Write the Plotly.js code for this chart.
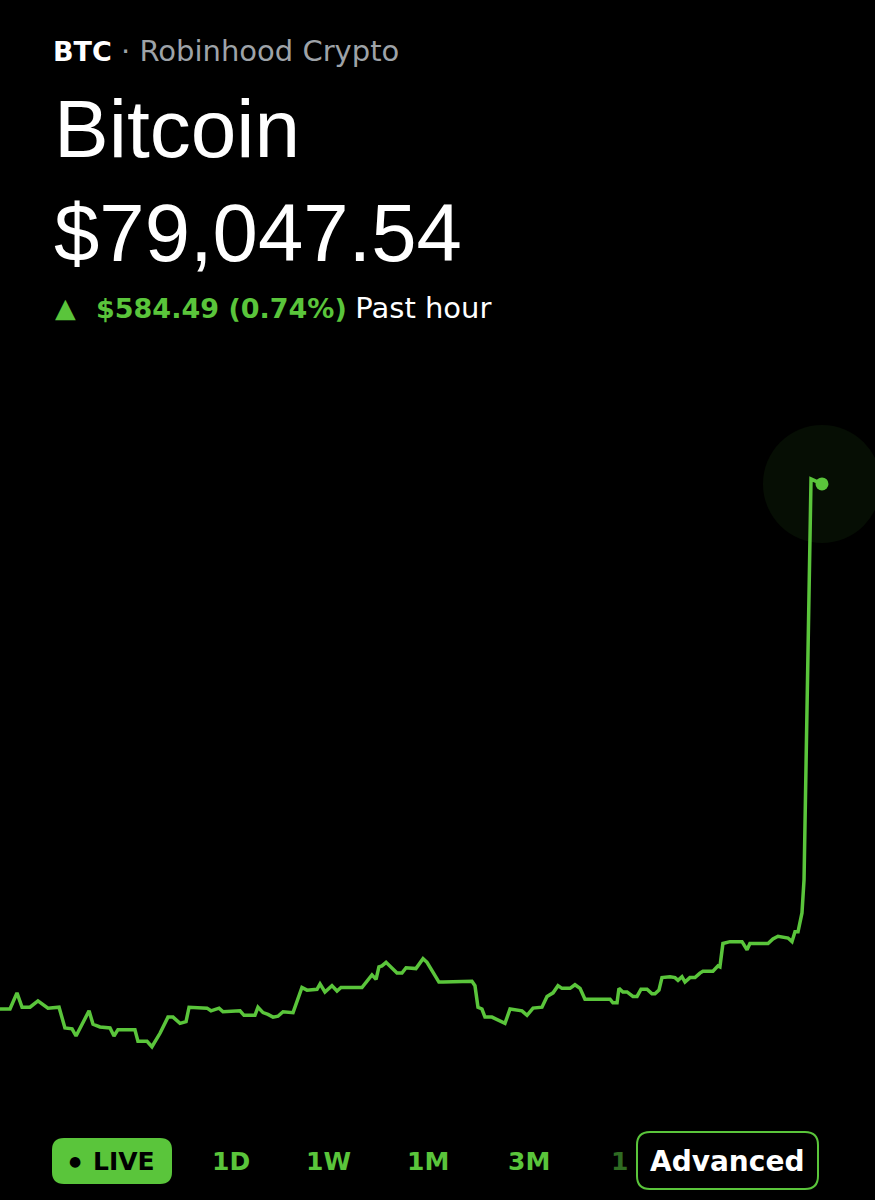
<!DOCTYPE html>
<html>
<head>
<meta charset="utf-8">
<script src="https://cdn.plot.ly/plotly-3.0.1.min.js"></script>
<style>
  html, body { margin: 0; padding: 0; background: #000; }
  #chart { width: 875px; height: 1200px; }
</style>
</head>
<body>
<div id="chart"></div>
<script>
/* ─── Past-hour BTC price (minutes since start, USD) ─── */
const times = [
  0, 0.73, 1.24, 1.61, 2.19, 2.77, 3.50, 4.31, 4.74, 5.26,
  5.55, 6.50, 6.79, 7.30, 8.03, 8.32, 8.61, 9.85, 10.07, 10.73,
  11.09, 11.68, 12.26, 12.63, 13.14, 13.58, 13.80, 15.11, 15.40, 15.99,
  16.28, 17.52, 17.81, 18.61, 18.83, 19.20, 19.56, 19.93, 20.29, 20.66,
  21.39, 22.04, 22.41, 23.14, 23.36, 23.72, 24.23, 24.60, 24.89, 26.42,
  27.15, 27.45, 27.66, 27.88, 28.18, 28.98, 29.34, 29.64, 30.36, 30.88,
  31.17, 31.53, 32.04, 32.34, 34.45, 34.67, 34.89, 35.18, 35.40, 35.91,
  36.35, 36.86, 37.23, 38.10, 38.47, 38.91, 39.56, 39.93, 40.37, 40.73,
  41.02, 41.61, 41.97, 42.34, 42.70, 44.53, 44.74, 45.04, 45.18, 45.47,
  45.77, 46.20, 46.50, 46.79, 47.23, 47.59, 47.81, 48.10, 48.32, 48.91,
  49.27, 49.49, 49.78, 50.00, 50.36, 50.73, 51.09, 51.31, 52.04, 52.41,
  52.55, 52.77, 53.28, 54.16, 54.53, 54.74, 56.06, 56.42, 56.79, 57.15,
  57.52, 57.81, 58.03, 58.25, 58.54, 58.69, 59.20, 60.00,
];
const prices = [
  78463, 78463, 78481, 78465, 78465, 78472, 78464, 78465, 78442, 78441,
  78433, 78461, 78446, 78443, 78442, 78433, 78440, 78440, 78427, 78427,
  78421, 78436, 78454, 78454, 78447, 78449, 78465, 78464, 78461, 78464,
  78460, 78461, 78456, 78456, 78465, 78459, 78457, 78454, 78455, 78460,
  78459, 78487, 78484, 78485, 78491, 78482, 78489, 78483, 78487, 78487,
  78501, 78496, 78510, 78511, 78515, 78503, 78503, 78509, 78508, 78519,
  78515, 78506, 78493, 78493, 78494, 78489, 78465, 78463, 78454, 78454,
  78451, 78447, 78463, 78461, 78456, 78464, 78465, 78477, 78481, 78489,
  78486, 78486, 78490, 78486, 78474, 78474, 78470, 78470, 78486, 78482,
  78482, 78477, 78477, 78485, 78485, 78480, 78480, 78484, 78498, 78499,
  78498, 78495, 78499, 78493, 78498, 78498, 78503, 78505, 78505, 78511,
  78510, 78536, 78538, 78538, 78529, 78536, 78536, 78541, 78544, 78543,
  78542, 78538, 78549, 78549, 78570, 78607, 79053, 79047.54,
];

const symbol = 'BTC';
const exchange = 'Robinhood Crypto';
const assetName = 'Bitcoin';
const lastPrice = '$79,047.54';
const change = '$584.49 (0.74%)';
const changePeriod = 'Past hour';
const ranges = ['1D', '1W', '1M', '3M'];

/* ─── Colours & page geometry ─── */
const GREEN = '#5ac53b';
const GREY = '#9ea3a8';
const W = 875, H = 1200;
const X = px => px / W;          // page px -> paper
const Y = py => 1 - py / H;

function roundRect(x0, y0, x1, y1, r) {
  const rx = r / W, ry = r / H;
  const a = X(x0), b = X(x1), t = Y(y0), u = Y(y1);
  return `M ${a + rx} ${t} L ${b - rx} ${t} Q ${b} ${t} ${b} ${t - ry} ` +
         `L ${b} ${u + ry} Q ${b} ${u} ${b - rx} ${u} L ${a + rx} ${u} ` +
         `Q ${a} ${u} ${a} ${u + ry} L ${a} ${t - ry} Q ${a} ${t} ${a + rx} ${t} Z`;
}

const lastT = times[times.length - 1];
const lastP = prices[prices.length - 1];

const traces = [
  {
    x: [lastT], y: [lastP],
    mode: 'markers',
    marker: { color: 'rgba(90,197,59,0.07)', size: 118 },
    hoverinfo: 'skip',
  },
  {
    x: times, y: prices,
    mode: 'lines',
    line: { color: GREEN, width: 3.5 },
    hoverinfo: 'skip',
  },
  {
    x: [lastT], y: [lastP],
    mode: 'markers',
    marker: { color: GREEN, size: 13 },
    hoverinfo: 'skip',
  },
];

const BIG = '"Liberation Sans", Arial, sans-serif';
const UI = '"DejaVu Sans", sans-serif';

const annotations = [
  {
    x: X(51), y: Y(51), xanchor: 'left', yanchor: 'middle',
    text: `<b>${symbol}</b><span style="color:${GREY};font-size:29px"> · ${exchange}</span>`,
    font: { family: UI, size: 27, color: '#ffffff' },
  },
  {
    x: X(52), y: Y(128), xanchor: 'left', yanchor: 'middle',
    text: assetName,
    font: { family: BIG, size: 82, color: '#ffffff' },
  },
  {
    x: X(52), y: Y(232), xanchor: 'left', yanchor: 'middle',
    text: lastPrice,
    font: { family: BIG, size: 81.5, color: '#ffffff' },
  },
  {
    x: X(53), y: Y(308), xanchor: 'left', yanchor: 'middle',
    text: '▲',
    font: { family: UI, size: 27, color: GREEN },
  },
  {
    x: X(94), y: Y(308), xanchor: 'left', yanchor: 'middle',
    text: `<b>${change}</b> <span style="color:#ffffff;font-size:29px">${changePeriod}</span>`,
    font: { family: UI, size: 27, color: GREEN },
  },
  {
    x: X(75), y: Y(1161), xanchor: 'center', yanchor: 'middle',
    text: '●',
    font: { family: UI, size: 14, color: '#000000' },
  },
  {
    x: X(124), y: Y(1161), xanchor: 'center', yanchor: 'middle',
    text: '<b>LIVE</b>',
    font: { family: UI, size: 25, color: '#000000' },
  },
  ...ranges.map((r, i) => ({
    x: X([231, 328, 428, 529][i]), y: Y(1161), xanchor: 'center', yanchor: 'middle',
    text: `<b>${r}</b>`,
    font: { family: UI, size: 25, color: GREEN },
  })),
  {
    x: X(619), y: Y(1161), xanchor: 'center', yanchor: 'middle',
    text: '<b>1</b>',
    font: { family: UI, size: 25, color: '#2f6b22' },
  },
  {
    x: X(727), y: Y(1161), xanchor: 'center', yanchor: 'middle',
    text: '<b>Advanced</b>',
    font: { family: UI, size: 28, color: '#ffffff' },
  },
].map(a => ({ xref: 'paper', yref: 'paper', showarrow: false, ...a }));

const shapes = [
  {
    type: 'path', xref: 'paper', yref: 'paper',
    path: roundRect(52, 1138, 172, 1184, 12),
    fillcolor: GREEN, line: { width: 0 },
  },
  {
    type: 'path', xref: 'paper', yref: 'paper',
    path: roundRect(637, 1132, 818, 1189, 13),
    fillcolor: '#000000', line: { color: GREEN, width: 2 },
  },
];

const layout = {
  width: W, height: H,
  paper_bgcolor: '#000000',
  plot_bgcolor: '#000000',
  margin: { l: 0, r: 0, t: 0, b: 0 },
  showlegend: false,
  xaxis: { range: [0, 63.87], visible: false, fixedrange: true },
  yaxis: { range: [78250.4, 79586.3], visible: false, fixedrange: true },
  annotations,
  shapes,
};

Plotly.newPlot('chart', traces, layout, { displayModeBar: false, staticPlot: true });
</script>
</body>
</html>
